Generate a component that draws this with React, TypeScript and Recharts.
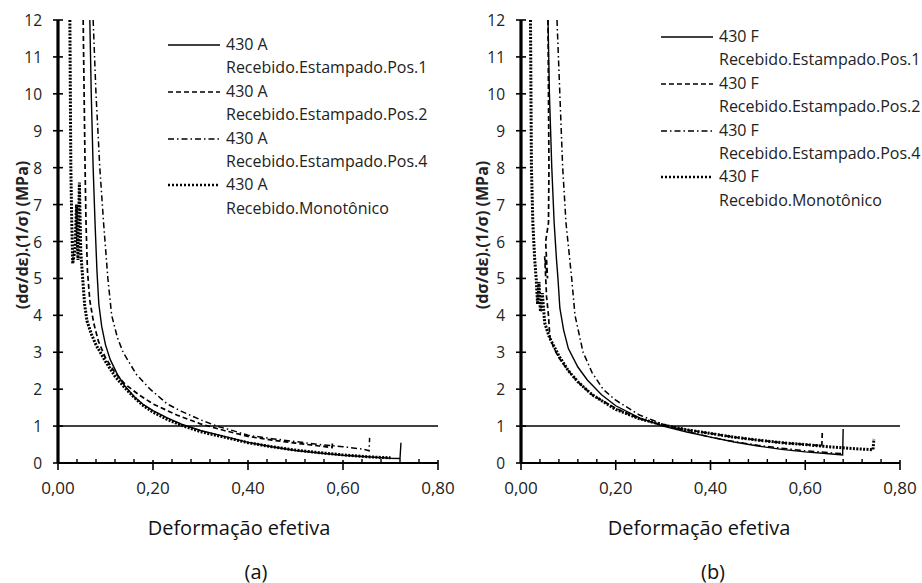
import React from 'react';
import { LineChart, Line, XAxis, YAxis, ReferenceLine } from 'recharts';

// strain / normalized hardening-rate pairs
const A_POS1 = [
  [0.067, 12], [0.07, 10], [0.074, 8], [0.078, 6.5], [0.082, 5.2], [0.086, 4.3], [0.092, 3.7],
  [0.1, 3.2], [0.11, 2.8], [0.125, 2.4], [0.14, 2.1], [0.16, 1.8], [0.18, 1.58], [0.2, 1.42],
  [0.23, 1.22], [0.26, 1.05], [0.3, 0.88], [0.35, 0.72], [0.4, 0.56], [0.45, 0.44], [0.5, 0.34],
  [0.55, 0.27], [0.6, 0.21], [0.65, 0.17], [0.7, 0.13], [0.72, 0.12], [0.722, 0.55],
];
const A_POS2 = [
  [0.053, 12], [0.055, 10], [0.057, 8], [0.059, 6.5], [0.062, 5.2], [0.067, 4.4], [0.075, 3.8],
  [0.085, 3.3], [0.1, 2.85], [0.12, 2.45], [0.14, 2.15], [0.17, 1.85], [0.2, 1.6], [0.25, 1.3],
  [0.3, 1.06], [0.35, 0.88], [0.4, 0.72], [0.45, 0.62], [0.5, 0.54], [0.55, 0.46], [0.577, 0.42],
  [0.578, 0.58],
];
const A_POS4 = [
  [0.074, 12], [0.08, 10], [0.088, 8], [0.096, 6.5], [0.105, 5], [0.113, 4], [0.125, 3.4],
  [0.137, 3], [0.165, 2.4], [0.194, 2.0], [0.23, 1.6], [0.26, 1.4], [0.3, 1.17], [0.334, 1.0],
  [0.37, 0.87], [0.4, 0.75], [0.45, 0.66], [0.5, 0.58], [0.55, 0.5], [0.6, 0.44], [0.64, 0.38],
  [0.655, 0.33], [0.656, 0.68],
];
const A_MONO = [
  [0.025, 12], [0.026, 10], [0.027, 8], [0.029, 6.5], [0.031, 5.4], [0.036, 5.8], [0.039, 7.0],
  [0.042, 5.5], [0.045, 7.6], [0.048, 5.7], [0.052, 5.0], [0.056, 4.3], [0.061, 3.85], [0.07, 3.5],
  [0.08, 3.2], [0.1, 2.75], [0.12, 2.35], [0.14, 2.05], [0.16, 1.78], [0.18, 1.55], [0.2, 1.38],
  [0.23, 1.18], [0.26, 1.02], [0.3, 0.85], [0.35, 0.7], [0.4, 0.55], [0.45, 0.44], [0.5, 0.35],
  [0.55, 0.28], [0.6, 0.22], [0.65, 0.17], [0.7, 0.14],
];

const F_POS1 = [
  [0.057, 12], [0.06, 10], [0.065, 8], [0.07, 6.5], [0.075, 5.5], [0.078, 5], [0.082, 4.2],
  [0.09, 3.6], [0.1, 3.1], [0.12, 2.6], [0.14, 2.25], [0.17, 1.85], [0.2, 1.55], [0.25, 1.22],
  [0.3, 1.0], [0.35, 0.84], [0.4, 0.7], [0.45, 0.57], [0.5, 0.46], [0.55, 0.37], [0.6, 0.3],
  [0.65, 0.25], [0.679, 0.22], [0.68, 0.92],
];
const F_POS2 = [
  [0.057, 12], [0.058, 10], [0.059, 8], [0.058, 6.5], [0.052, 6.0], [0.056, 5.0], [0.05, 5.6],
  [0.054, 4.5], [0.058, 4.0], [0.061, 3.4], [0.07, 3.1], [0.08, 2.85], [0.1, 2.5], [0.12, 2.2],
  [0.15, 1.85], [0.2, 1.48], [0.25, 1.2], [0.3, 1.02], [0.35, 0.9], [0.4, 0.8], [0.45, 0.7],
  [0.5, 0.62], [0.55, 0.55], [0.6, 0.5], [0.635, 0.47], [0.636, 0.85],
];
const F_POS4 = [
  [0.076, 12], [0.082, 10], [0.088, 8], [0.095, 6.5], [0.107, 5], [0.114, 4], [0.131, 3],
  [0.15, 2.45], [0.173, 2.0], [0.2, 1.7], [0.25, 1.3], [0.3, 1.05], [0.35, 0.86], [0.4, 0.7],
  [0.45, 0.58], [0.5, 0.48], [0.55, 0.4], [0.6, 0.33], [0.65, 0.28], [0.68, 0.25],
];
const F_MONO = [
  [0.02, 12], [0.021, 10], [0.022, 8], [0.025, 6.5], [0.029, 5.5], [0.032, 5.0], [0.035, 4.3],
  [0.038, 4.9], [0.041, 4.1], [0.045, 4.6], [0.05, 3.8], [0.06, 3.4], [0.068, 3.2], [0.08, 2.9],
  [0.1, 2.5], [0.12, 2.2], [0.15, 1.85], [0.2, 1.45], [0.25, 1.2], [0.3, 1.03], [0.35, 0.9],
  [0.4, 0.8], [0.45, 0.7], [0.5, 0.62], [0.55, 0.55], [0.6, 0.5], [0.65, 0.44], [0.7, 0.39],
  [0.743, 0.36], [0.745, 0.65],
];

const X_TICKS = [0, 0.04, 0.08, 0.12, 0.16, 0.2, 0.24, 0.28, 0.32, 0.36, 0.4, 0.44, 0.48, 0.52, 0.56, 0.6, 0.64, 0.68, 0.72, 0.76, 0.8];
const Y_TICKS = [0, 1, 2, 3, 4, 5, 6, 7, 8, 9, 10, 11, 12];

const SERIES_NAMES = ['Recebido.Estampado.Pos.1', 'Recebido.Estampado.Pos.2', 'Recebido.Estampado.Pos.4', 'Recebido.Monotônico'];

const FONT = '"Open Sans", sans-serif';

// chart strokes (the monotonic one is a dense noisy band, so heavier)
const STYLES = [
  { dash: undefined, width: 1.4 },
  { dash: '5 3', width: 1.7 },
  { dash: '6 3 1.5 3', width: 1.5 },
  { dash: '2 1.4', width: 3 },
];
const LEGEND_STYLES = [
  { dash: undefined, width: 1.3 },
  { dash: '5 3', width: 1.6 },
  { dash: '6 3 1.5 3', width: 1.4 },
  { dash: '2 2', width: 2.4 },
];

const toRows = (pts: number[][]) => pts.map(([x, y]) => ({ x, y }));

const XTick = (props: any) => {
  const { x, y, payload } = props;
  const v = payload.value;
  const major = Math.abs(v * 5 - Math.round(v * 5)) < 1e-6;
  return (
    <g>
      {major ? (
        <line x1={x} x2={x} y1={y - 3} y2={y + 7} stroke="#000" strokeWidth={1.6} />
      ) : (
        <line x1={x} x2={x} y1={y - 4} y2={y} stroke="#000" strokeWidth={1.4} />
      )}
      {major && (
        <text x={x} y={y + 24} textAnchor="middle" dominantBaseline="central" fontFamily={FONT} fontSize={17} fill="#222">
          {v.toFixed(2).replace('.', ',')}
        </text>
      )}
    </g>
  );
};

const YTick = (props: any) => {
  const { x, y, payload } = props;
  return (
    <g>
      <line x1={x - 5} x2={x + 5} y1={y} y2={y} stroke="#000" strokeWidth={1.6} />
      <text x={x - 16} y={y} textAnchor="end" dominantBaseline="central" fontFamily={FONT} fontSize={15.5} fill="#222">
        {payload.value}
      </text>
    </g>
  );
};

function Panel({ left, marginLeft, marginRight, series, alloy, legendX, legendY, xLabelX, capX, caption }: any) {
  return (
    <div style={{ position: 'absolute', left, top: 0, width: 460, height: 583 }}>
      <LineChart width={460} height={583} margin={{ top: 20, right: marginRight, left: marginLeft - 30, bottom: 90 }}>
        <XAxis
          dataKey="x"
          type="number"
          domain={[0, 0.8]}
          ticks={X_TICKS}
          interval={0}
          height={30}
          tickSize={0}
          tickMargin={0}
          tickLine={false}
          axisLine={{ stroke: '#000', strokeWidth: 2.2 }}
          tick={<XTick />}
          allowDataOverflow
        />
        <YAxis
          type="number"
          domain={[0, 12]}
          ticks={Y_TICKS}
          interval={0}
          width={30}
          tickSize={0}
          tickMargin={0}
          tickLine={false}
          axisLine={{ stroke: '#000', strokeWidth: 3.2 }}
          tick={<YTick />}
          allowDataOverflow
        />
        <ReferenceLine y={1} stroke="#000" strokeWidth={1.5} />
        {series.map((pts: number[][], i: number) => (
          <Line
            key={i}
            data={toRows(pts)}
            dataKey="y"
            type="linear"
            stroke="#000"
            strokeWidth={STYLES[i].width}
            strokeDasharray={STYLES[i].dash}
            dot={false}
            isAnimationActive={false}
          />
        ))}
      </LineChart>

      <div style={{ position: 'absolute', left: legendX, top: legendY, fontFamily: FONT, fontSize: 16, color: '#222', lineHeight: '23.4px' }}>
        {SERIES_NAMES.map((name, i) => (
          <div key={name}>
            <div style={{ position: 'relative', paddingLeft: 58, whiteSpace: 'nowrap' }}>
              <svg width={52} height={6} style={{ position: 'absolute', left: 0, top: 9 }}>
                <line x1={0} x2={52} y1={3} y2={3} stroke="#000" strokeWidth={LEGEND_STYLES[i].width} strokeDasharray={LEGEND_STYLES[i].dash} />
              </svg>
              {alloy}
            </div>
            <div style={{ paddingLeft: 58, whiteSpace: 'nowrap' }}>{name}</div>
          </div>
        ))}
      </div>

      <div
        style={{
          position: 'absolute', left: 22, top: 235, transform: 'translate(-50%, -50%) rotate(-90deg)',
          whiteSpace: 'nowrap', fontFamily: FONT, fontWeight: 700, fontSize: 16, color: '#222',
        }}
      >
        (dσ/dε).(1/σ) (MPa)
      </div>
      <div style={{ position: 'absolute', left: xLabelX, top: 527, transform: 'translate(-50%, -50%)', whiteSpace: 'nowrap', fontFamily: FONT, fontSize: 20, color: '#111' }}>
        Deformação efetiva
      </div>
      <div style={{ position: 'absolute', left: capX, top: 571, transform: 'translate(-50%, -50%)', fontFamily: FONT, fontSize: 20, color: '#111' }}>
        {caption}
      </div>
    </div>
  );
}

export default function App() {
  return (
    <div style={{ position: 'absolute', left: 0, top: 0, width: 922, height: 583, background: '#fff', overflow: 'hidden' }}>
      <Panel
        left={0} marginLeft={58} marginRight={22}
        series={[A_POS1, A_POS2, A_POS4, A_MONO]}
        alloy="430 A" legendX={168} legendY={33}
        xLabelX={239} capX={256} caption="(a)"
      />
      <Panel
        left={460} marginLeft={61} marginRight={20}
        series={[F_POS1, F_POS2, F_POS4, F_MONO]}
        alloy="430 F" legendX={201} legendY={25}
        xLabelX={239} capX={253} caption="(b)"
      />
    </div>
  );
}
